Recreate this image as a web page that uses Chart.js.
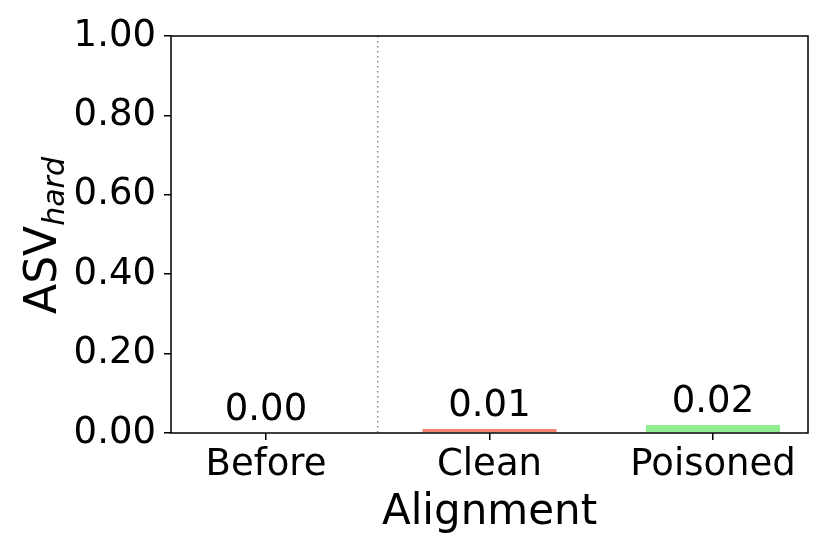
<!DOCTYPE html>
<html>
<head>
<meta charset="utf-8">
<script src="https://cdn.jsdelivr.net/npm/chart.js@4/dist/chart.umd.min.js"></script>
<style>
  html, body { margin: 0; background: #fff; }
  #wrap { width: 830px; height: 554px; }
</style>
</head>
<body>
<div id="wrap"><canvas id="chart"></canvas></div>
<script>
// data
const categories = ['Before', 'Clean', 'Poisoned'];
const values = [0.00, 0.01, 0.02];
const barColors = ['#87ceeb', '#fa8072', '#90ee90'];
const yTicks = [0, 0.2, 0.4, 0.6, 0.8, 1.0];
const dividerAt = 0.5;   // between Before and Clean
const xTitle = 'Alignment';
const yTitleMain = 'ASV';
const yTitleSub = 'hard';

const FONT = "'DejaVu Sans', sans-serif";
const AREA = { left: 171, top: 36, right: 808, bottom: 433 };

// box around the plot area
const framePlugin = {
  id: 'frame',
  afterDraw(chart) {
    const { ctx, chartArea: a } = chart;
    ctx.save();
    ctx.strokeStyle = '#000';
    ctx.lineWidth = 1.5;
    ctx.strokeRect(a.left, a.top, a.right - a.left, a.bottom - a.top);
    ctx.restore();
  }
};

// dotted separator
const dividerPlugin = {
  id: 'divider',
  beforeDatasetsDraw(chart) {
    const { ctx, chartArea: a } = chart;
    const x = chart.scales.x.getPixelForValue(dividerAt);
    ctx.save();
    ctx.strokeStyle = '#8a8a8a';
    ctx.lineWidth = 1.5;
    ctx.setLineDash([1.5, 3.5]);
    ctx.beginPath();
    ctx.moveTo(x, a.top);
    ctx.lineTo(x, a.bottom);
    ctx.stroke();
    ctx.restore();
  }
};

// numbers above the bars
const valueLabels = {
  id: 'valueLabels',
  afterDatasetsDraw(chart) {
    const { ctx } = chart;
    const meta = chart.getDatasetMeta(0);
    ctx.save();
    ctx.fillStyle = '#000';
    ctx.font = '37px ' + FONT;
    ctx.textAlign = 'center';
    ctx.textBaseline = 'alphabetic';
    meta.data.forEach((bar, i) => {
      ctx.fillText(values[i].toFixed(2), bar.x, bar.y - 13);
    });
    ctx.restore();
  }
};

// axis titles (y one has a subscript)
const titlesPlugin = {
  id: 'titles',
  afterDraw(chart) {
    const { ctx, chartArea: a } = chart;
    ctx.save();
    ctx.fillStyle = '#000';
    ctx.textBaseline = 'alphabetic';

    ctx.font = '42px ' + FONT;
    ctx.textAlign = 'center';
    ctx.fillText(xTitle, (a.left + a.right) / 2, 524);

    ctx.textAlign = 'left';
    ctx.font = '44px ' + FONT;
    const wMain = ctx.measureText(yTitleMain).width;
    ctx.font = 'italic 30px ' + FONT;
    const wSub = ctx.measureText(yTitleSub).width;
    const total = wMain + wSub;
    ctx.translate(56, (a.top + a.bottom) / 2 + total / 2 + 1);
    ctx.rotate(-Math.PI / 2);
    ctx.font = '44px ' + FONT;
    ctx.fillText(yTitleMain, 0, 0);
    ctx.font = 'italic 30px ' + FONT;
    ctx.fillText(yTitleSub, wMain, 8);
    ctx.restore();
  }
};

new Chart(document.getElementById('chart'), {
  type: 'bar',
  data: {
    datasets: [{
      data: categories.map((c, i) => ({ x: i, y: values[i] })),
      backgroundColor: barColors,
      borderWidth: 0,
      barPercentage: 0.6,
      categoryPercentage: 1
    }]
  },
  options: {
    responsive: true,
    maintainAspectRatio: false,
    animation: false,
    layout: { padding: { top: AREA.top, right: 830 - AREA.right, left: 0, bottom: 0 } },
    plugins: { legend: { display: false }, tooltip: { enabled: false } },
    scales: {
      x: {
        type: 'linear',
        offset: false,
        min: -0.425,
        max: 2.425,
        afterBuildTicks: s => { s.ticks = categories.map((c, i) => ({ value: i })); },
        afterFit: s => { s.height = 554 - AREA.bottom; },
        border: { display: false },
        grid: { offset: false, drawOnChartArea: false, drawTicks: true, tickLength: 7, color: '#000', lineWidth: 1.5 },
        ticks: {
          color: '#000',
          font: { family: FONT, size: 37 },
          padding: 3,
          maxRotation: 0,
          autoSkip: false,
          callback: v => categories[v]
        }
      },
      y: {
        min: 0,
        max: 1,
        afterBuildTicks: s => { s.ticks = yTicks.map(v => ({ value: v })); },
        afterFit: s => { s.width = AREA.left; },
        border: { display: false },
        grid: { drawOnChartArea: false, drawTicks: true, tickLength: 7, color: '#000', lineWidth: 1.5 },
        ticks: {
          color: '#000',
          font: { family: FONT, size: 37 },
          padding: 8,
          callback: v => v.toFixed(2)
        }
      }
    }
  },
  plugins: [framePlugin, dividerPlugin, valueLabels, titlesPlugin]
});
</script>
</body>
</html>
